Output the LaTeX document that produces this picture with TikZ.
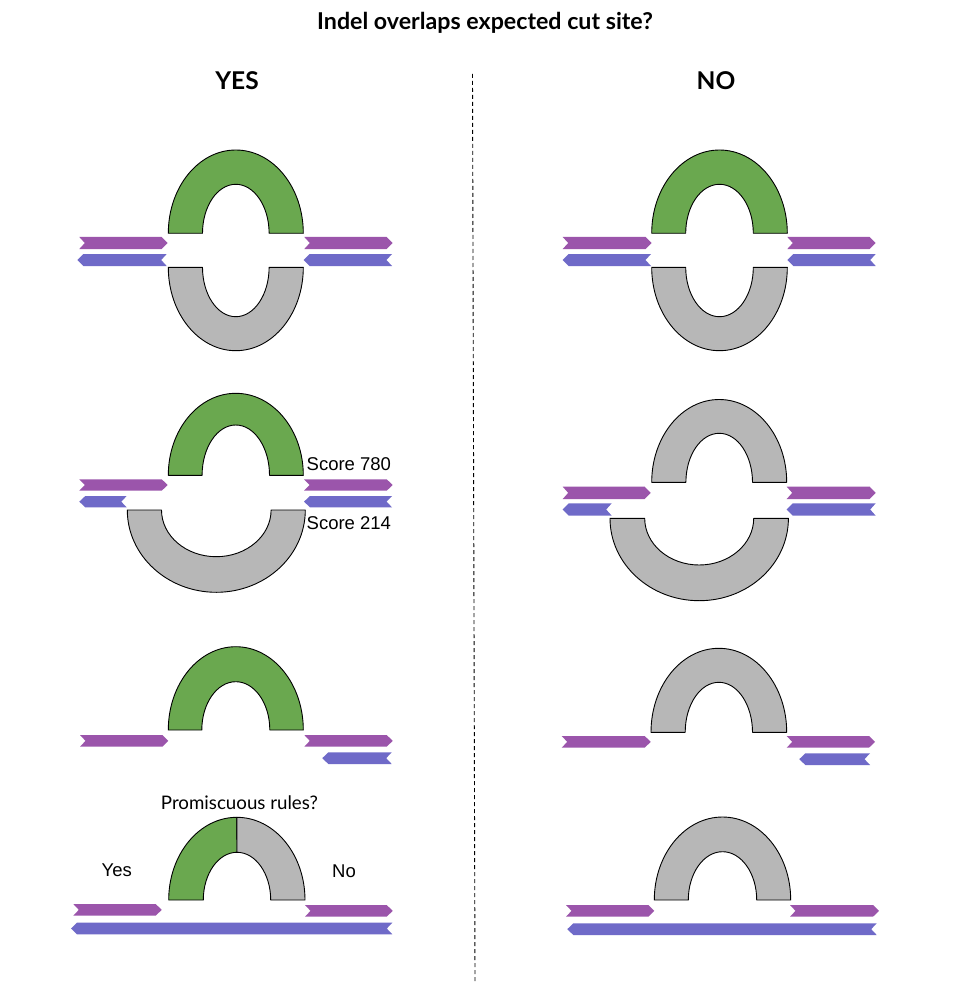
\documentclass[tikz,border=0pt]{standalone}
\usepackage{fontspec}
\setmainfont{Liberation Sans}
\newfontfamily\latofont{Lato}
\definecolor{archgreen}{HTML}{6AA84F}
\definecolor{archgray}{HTML}{B7B7B7}
\definecolor{strandpurple}{HTML}{9B55AB}
\definecolor{strandblue}{HTML}{6F6AC8}
\tikzset{
  archline/.style={draw=black, line width=0.9pt, line join=round},
  titletext/.style={font=\latofont\bfseries\fontsize{23.2}{27}\selectfont, anchor=base, inner sep=0pt},
  headtext/.style={font=\latofont\bfseries\fontsize{24.5}{28}\selectfont, anchor=base, inner sep=0pt},
  lato/.style={font=\latofont\fontsize{18.7}{22}\selectfont, inner sep=0pt},
  arial/.style={font=\fontsize{18.5}{21}\selectfont, inner sep=0pt},
}
% upward arch: cx, base y, outer rx, outer ry, inner rx, inner ry, fill
\newcommand\archUp[7]{%
  \draw[archline, fill=#7] (#1-#3,#2) arc[start angle=180, end angle=0, x radius=#3pt, y radius=#4pt]
    -- (#1+#5,#2) arc[start angle=0, end angle=180, x radius=#5pt, y radius=#6pt] -- cycle;}
\newcommand\archDown[7]{%
  \draw[archline, fill=#7] (#1-#3,#2) arc[start angle=180, end angle=360, x radius=#3pt, y radius=#4pt]
    -- (#1+#5,#2) arc[start angle=360, end angle=180, x radius=#5pt, y radius=#6pt] -- cycle;}
% right-pointing chevron strand: x0, x1, ytop, ybottom
\newcommand\rStrand[4]{%
  \fill[strandpurple] (#1,#3) -- (#2-6,#3) -- (#2,{(#3+#4)/2}) -- (#2-6,#4) -- (#1,#4) -- (#1+5.5,{(#3+#4)/2}) -- cycle;}
% left-pointing chevron strand
\newcommand\lStrand[4]{%
  \fill[strandblue] (#1+6,#3) -- (#2,#3) -- (#2-5.5,{(#3+#4)/2}) -- (#2,#4) -- (#1+6,#4) -- (#1,{(#3+#4)/2}) -- cycle;}
\begin{document}
\begin{tikzpicture}[x=1pt, y=-1pt]
\useasboundingbox (0,0) rectangle (957,984);
\fill[white] (0,0) rectangle (957,984);

% titles
\node[titletext] (title) at (485,30) {Indel overlaps expected cut site?};
\node[headtext] (yes) at (237,90) {YES};
\node[headtext] (no) at (716,90) {NO};

% divider
\coordinate (divtop) at (472.5,74);
\coordinate (divbot) at (475,984);
\draw[line width=0.9pt, dash pattern=on 4pt off 3pt] (divtop) -- (divbot);

% ===== LEFT COLUMN =====
% row 1
\archUp{235.8}{233.3}{67.5}{83.3}{33.3}{49}{archgreen}
\archDown{235.8}{267.3}{67.5}{83.4}{33.3}{49.4}{archgray}
\rStrand{79.3}{167.7}{237}{249}
\rStrand{304.3}{392.7}{237}{249}
\lStrand{77.3}{166.7}{254}{266}
\lStrand{303.7}{392}{254}{266}

% row 2
\archUp{235.8}{475.3}{67.5}{82}{33.7}{50.3}{archgreen}
\archDown{216.3}{510}{89}{82.3}{54.8}{46.7}{archgray}
\rStrand{79.3}{167.7}{479.3}{490.7}
\rStrand{304}{392.7}{479.3}{490.7}
\lStrand{79.3}{126.7}{496}{507.3}
\lStrand{304}{392}{496}{507.3}
\node[arial, anchor=base west] (s780) at (306.5,470) {Score 780};
\node[arial, anchor=base west] (s214) at (306.5,529.3) {Score 214};

% row 3
\archUp{235.8}{730}{67.5}{83.3}{34}{48.3}{archgreen}
\rStrand{80}{168.3}{735}{746.7}
\rStrand{304.3}{392.7}{735}{746.7}
\lStrand{322.3}{391.7}{752.3}{764}

% row 4
\draw[archline, fill=archgreen] (168.7,900) arc[start angle=180, end angle=90, x radius=68.15pt, y radius=82.7pt]
  -- (237,852.3) arc[start angle=90, end angle=180, x radius=33.7pt, y radius=47.7pt] -- cycle;
\draw[archline, fill=archgray] (236.85,817.3) arc[start angle=90, end angle=0, x radius=68.15pt, y radius=82.7pt]
  -- (270.7,900) arc[start angle=0, end angle=90, x radius=33.7pt, y radius=47.7pt] -- cycle;
\rStrand{73.3}{161.7}{904}{915.7}
\rStrand{305}{392.7}{905}{916.7}
\lStrand{71}{392.3}{922.7}{934.3}
\node[lato, anchor=base] (prom) at (239.5,809) {Promiscuous rules?};
\node[arial, anchor=base] (yeslbl) at (116.7,876) {Yes};
\node[arial, anchor=base] (nolbl) at (344,877.3) {No};

% ===== RIGHT COLUMN =====
% row 1
\archUp{719.5}{233.3}{67.8}{83.3}{33.8}{49}{archgreen}
\archDown{719.5}{267.3}{67.8}{83.4}{33.8}{49.4}{archgray}
\rStrand{562.7}{651.7}{237}{249}
\rStrand{787.3}{875.7}{237}{249}
\lStrand{562.7}{651}{254}{266}
\lStrand{787.3}{875.7}{254}{266}

% row 2
\archUp{719.2}{482.3}{67.5}{82.8}{33.3}{49}{archgray}
\archDown{699.2}{518.3}{89.2}{82.4}{54.5}{46.7}{archgray}
\rStrand{562.7}{650.7}{486.7}{499}
\rStrand{786.7}{875.7}{486.7}{499}
\lStrand{562.7}{611.7}{503.3}{515.7}
\lStrand{786.7}{875.7}{503.3}{515.7}

% row 3
\archUp{718.85}{732.3}{67.85}{84}{33.65}{50}{archgray}
\rStrand{561.7}{650.7}{736}{747.7}
\rStrand{786.7}{875}{736}{747.7}
\lStrand{799.3}{870}{753.3}{765}

% row 4
\archUp{722.5}{900}{68.2}{83}{34.2}{48.3}{archgray}
\rStrand{566}{654.3}{905}{916.7}
\rStrand{790}{879}{905}{916.7}
\lStrand{567.3}{876.7}{923.3}{935}
\end{tikzpicture}
\end{document}
